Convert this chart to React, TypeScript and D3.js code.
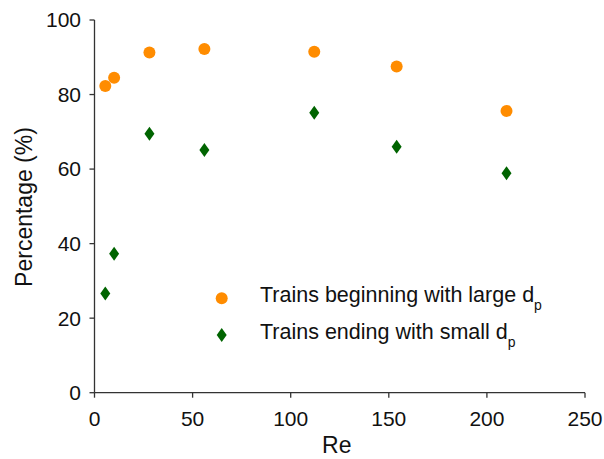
import React from "react";
import * as d3 from "d3";

const reValues = [5.5, 10, 28, 56, 112, 154, 210];
const largeStart = [82.3, 84.5, 91.3, 92.2, 91.5, 87.5, 75.6];
const smallEnd = [26.6, 37.3, 69.5, 65.1, 75.1, 66.0, 58.9];
const xTicks = [0, 50, 100, 150, 200, 250];
const yTicks = [0, 20, 40, 60, 80, 100];
const legendLabels = ["Trains beginning with large d", "Trains ending with small d"];

const W = 604;
const H = 459;
const ORANGE = "#FF8C00";
const GREEN = "#006400";
const AXIS = "#333";
const FONT = "'Liberation Sans', Arial, sans-serif";

function diamond(cx: number, cy: number, hw = 5, hh = 7) {
  return `M${cx},${cy - hh}L${cx + hw},${cy}L${cx},${cy + hh}L${cx - hw},${cy}Z`;
}

export default function App() {
  const x = d3.scaleLinear().domain([0, 250]).range([94.5, 585]);
  const y = d3.scaleLinear().domain([0, 100]).range([392.7, 20]);

  return (
    <svg
      width={W}
      height={H}
      style={{ position: "absolute", left: 0, top: 0, background: "#fff" }}
      fontFamily={FONT}
    >
      {/* axes */}
      <line x1={x(0)} x2={x(250)} y1={y(0)} y2={y(0)} stroke={AXIS} strokeWidth={1.3} />
      <line x1={x(0)} x2={x(0)} y1={y(0)} y2={y(100)} stroke={AXIS} strokeWidth={1.3} />
      {xTicks.map((t) => (
        <g key={"xt" + t}>
          <line x1={x(t)} x2={x(t)} y1={y(0)} y2={y(0) + 5} stroke={AXIS} strokeWidth={1.3} />
          <text x={x(t)} y={426} textAnchor="middle" fontSize={21} fill="#111">
            {t}
          </text>
        </g>
      ))}
      {yTicks.map((t) => (
        <g key={"yt" + t}>
          <line x1={x(0) - 5} x2={x(0)} y1={y(t)} y2={y(t)} stroke={AXIS} strokeWidth={1.3} />
          <text x={81} y={y(t)} dy="0.35em" textAnchor="end" fontSize={21} fill="#111">
            {t}
          </text>
        </g>
      ))}
      <text x={x(125) - 3} y={453} textAnchor="middle" fontSize={23} fill="#111">
        Re
      </text>
      <text
        transform={`translate(32,207) rotate(-90)`}
        textAnchor="middle"
        fontSize={23}
        fill="#111"
      >
        Percentage (%)
      </text>

      {/* data */}
      {reValues.map((r, i) => (
        <circle key={"o" + i} cx={x(r)} cy={y(largeStart[i])} r={6} fill={ORANGE} />
      ))}
      {reValues.map((r, i) => (
        <path key={"g" + i} d={diamond(x(r), y(smallEnd[i]))} fill={GREEN} />
      ))}

      {/* legend */}
      <circle cx={221.7} cy={298.3} r={6} fill={ORANGE} />
      <path d={diamond(221.7, 335)} fill={GREEN} />
      {legendLabels.map((lab, i) => (
        <text key={"l" + i} x={260} y={301.7 + i * 37.6} fontSize={21.5} fill="#111">
          {lab}
          <tspan fontSize={14} dy={8}>p</tspan>
        </text>
      ))}
    </svg>
  );
}
